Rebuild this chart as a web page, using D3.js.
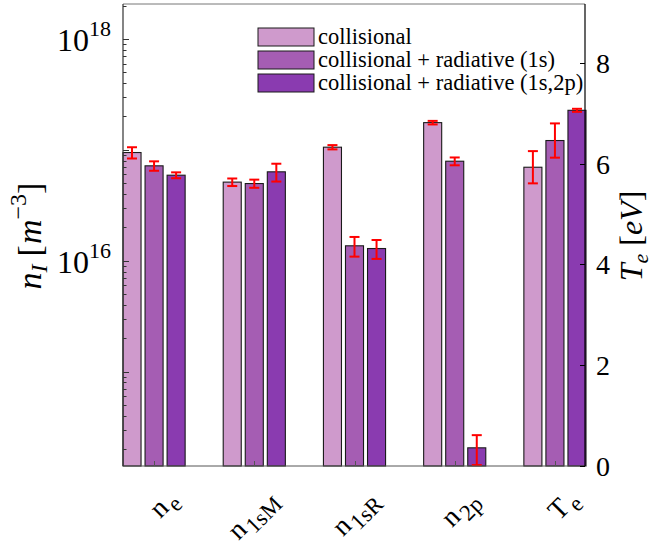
<!DOCTYPE html>
<html><head><meta charset="utf-8">
<script src="https://cdn.jsdelivr.net/npm/d3@7"></script>
<style>
body{margin:0;background:#fff}
#wrap{position:relative;width:654px;height:546px;overflow:hidden}
svg{display:block;position:absolute;left:0;top:0}
text{font-family:"Liberation Serif","Times New Roman",serif;fill:#000}
.xl{position:absolute;font-family:"Liberation Serif","Times New Roman",serif;font-size:28px;line-height:1;white-space:nowrap;color:#000;transform-origin:0 0;transform:rotate(-45deg) translate(-100%,-0.837em)}
.xl span{position:relative;top:7px;font-size:23px;margin-left:2px}
</style>
</head><body><div id="wrap"><svg id="c" width="654" height="546"></svg></div>
<script>
// ---- data ----
const categories = ["n|e", "n|1sM", "n|1sR", "n|2p", "T|e"];
const seriesNames = ["collisional", "collisional + radiative (1s)", "collisional + radiative (1s,2p)"];
const collisional = [9.46e16, 5.12e16, 1.057e17, 1.76e17, 5.93];
const radiative1s = [7.18e16, 4.97e16, 1.365e16, 7.9e16, 6.46];
const radiative1s2p = [5.91e16, 6.34e16, 1.29e16, 2.06e14, 7.06];
const errCollisional = [1.1e16, 0.4e16, 4.7e15, 6.5e15, 0.32];
const errRadiative1s = [0.7e16, 0.42e16, 2.75e15, 6.4e15, 0.34];
const errRadiative1s2p = [0.36e16, 1.16e16, 2.5e15, 0.62e14, 0.03];
const leftTickLabels = [16, 18];
const rightTicks = [0, 2, 4, 6, 8];
const colors = ["#cf9acc", "#a55db3", "#8a3bb0"];

const svg = d3.select("#c");
const L = 123, R = 585, T = 4, B = 466;
const x = d3.scaleLinear().domain([0.69, 5.3]).range([L, R]);
const yL = d3.scaleLog().domain([Math.pow(10, 14.15), Math.pow(10, 18.315)]).range([B, T]);
const yR = d3.scaleLinear().domain([0, 9.17]).range([B, T]);

const values = [collisional, radiative1s, radiative1s2p];
const errs = [errCollisional, errRadiative1s, errRadiative1s2p];
const offsets = [-0.22, 0, 0.22];
const bw = 0.18;

const bars = [];
values.forEach((vals, s) => vals.forEach((v, i) => {
  const isT = i === categories.length - 1;
  bars.push({s, i, v, e: errs[s][i], y: isT ? yR : yL});
}));

// bars
const gb = svg.append("g");
gb.selectAll("rect").data(bars).join("rect")
  .attr("x", d => x(d.i + 1 + offsets[d.s] - bw / 2))
  .attr("width", d => x(bw) - x(0))
  .attr("y", d => d.y(d.v))
  .attr("height", d => B - d.y(d.v))
  .attr("fill", d => colors[d.s])
  .attr("stroke", "#1a1a1a").attr("stroke-width", 1.1);

// error bars
const ge = svg.append("g").attr("stroke", "#ff0000").attr("stroke-width", 2).attr("fill", "none");
bars.forEach(d => {
  const cx = x(d.i + 1 + offsets[d.s]);
  const y1 = d.y(d.v + d.e), y2 = d.y(Math.max(d.v - d.e, 1e-30));
  ge.append("line").attr("x1", cx).attr("x2", cx).attr("y1", y1).attr("y2", Math.min(y2, B));
  ge.append("line").attr("x1", cx - 5).attr("x2", cx + 5).attr("y1", y1).attr("y2", y1);
  ge.append("line").attr("x1", cx - 5).attr("x2", cx + 5).attr("y1", y2).attr("y2", y2);
});

// frame
const gf = svg.append("g");
gf.append("line").attr("x1", L).attr("x2", R).attr("y1", T).attr("y2", T).attr("stroke", "#777").attr("stroke-width", 1);
gf.append("line").attr("x1", L).attr("x2", R).attr("y1", B).attr("y2", B).attr("stroke", "#555").attr("stroke-width", 1);
gf.append("line").attr("x1", L).attr("x2", L).attr("y1", T).attr("y2", B).attr("stroke", "#333").attr("stroke-width", 1.2);
gf.append("line").attr("x1", R).attr("x2", R).attr("y1", T).attr("y2", B).attr("stroke", "#000").attr("stroke-width", 1.2);

// left ticks (log)
const ticksL = [];
for (let e = 14; e <= 18; e++) for (let m = 1; m <= 9; m++) {
  const v = m * Math.pow(10, e);
  if (v >= yL.domain()[0] && v <= yL.domain()[1]) ticksL.push({v, major: m === 1});
}
ticksL.forEach(t => {
  const yy = Math.round(yL(t.v)) + 0.5;
  gf.append("line").attr("x1", L).attr("x2", L + (t.major ? 6 : 3.5)).attr("y1", yy).attr("y2", yy).attr("stroke", "#333").attr("stroke-width", 1);
});
leftTickLabels.forEach(e => {
  const t = svg.append("text").attr("x", 111).attr("y", yL(Math.pow(10, e)) + 12).attr("text-anchor", "end").style("font-size", "32px");
  t.append("tspan").text("10");
  t.append("tspan").attr("dy", -15).style("font-size", "22px").text(e);
});

// right ticks
rightTicks.forEach(v => {
  const yy = Math.round(yR(v)) + 0.5;
  gf.append("line").attr("x1", R - 5).attr("x2", R).attr("y1", yy).attr("y2", yy).attr("stroke", "#000");
  svg.append("text").attr("x", 596).attr("y", yR(v) + 10).style("font-size", "28px").text(v);
});

// x ticks + rotated labels (HTML, rotated -45deg)
const wrap = d3.select("#wrap");
categories.forEach((c, i) => {
  const xx = Math.round(x(i + 1)) + 0.5;
  gf.append("line").attr("x1", xx).attr("x2", xx).attr("y1", B).attr("y2", B - 5).attr("stroke", "#555");
  const [main, sub] = c.split("|");
  const d = wrap.append("div").attr("class", "xl")
    .style("left", (x(i + 1) + 25) + "px").style("top", "501px");
  d.append("tspan").text(main);
  d.append("span").text(sub);
});

// axis titles
const tl = svg.append("g").attr("transform", "translate(41,236)").append("text")
  .attr("text-anchor", "middle").attr("transform", "rotate(-90)").style("font-size", "34px");
tl.append("tspan").style("font-style", "italic").text("n");
tl.append("tspan").style("font-style", "italic").style("font-size", "24px").attr("dy", 6).text("I");
tl.append("tspan").attr("dy", -6).attr("dx", 8).text("[");
tl.append("tspan").style("font-style", "italic").attr("dx", 1).text("m");
tl.append("tspan").style("font-size", "24px").attr("dy", -15).text("\u22123");
tl.append("tspan").attr("dy", 15).text("]");

const tr = svg.append("g").attr("transform", "translate(642,236)").append("text")
  .attr("text-anchor", "middle").attr("transform", "rotate(-90)").style("font-size", "32px");
tr.append("tspan").style("font-style", "italic").text("T");
tr.append("tspan").style("font-style", "italic").style("font-size", "22px").attr("dy", 6).text("e");
tr.append("tspan").attr("dy", -6).attr("dx", 8).text("[");
tr.append("tspan").style("font-style", "italic").text("eV");
tr.append("tspan").text("]");

// legend
const lg = svg.append("g");
seriesNames.forEach((n, k) => {
  const cy = 37 + k * 23;
  lg.append("rect").attr("x", 258).attr("y", cy - 9).attr("width", 56).attr("height", 18)
    .attr("fill", colors[k]).attr("stroke", "#1a1a1a").attr("stroke-width", 1);
  lg.append("text").attr("x", 318).attr("y", cy + 7).style("font-size", "22.5px").text(n);
});
</script></body></html>
